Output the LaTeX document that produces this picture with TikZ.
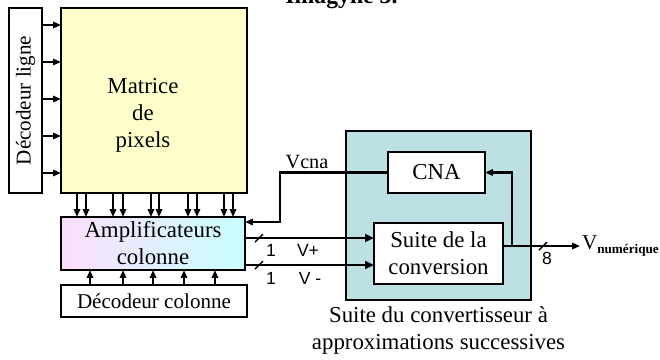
\documentclass[tikz,border=0pt]{standalone}
\usepackage{fontspec}
\setmainfont{Liberation Serif}
\setsansfont{Liberation Sans}
\usetikzlibrary{arrows.meta,positioning}

\definecolor{matjaune}{RGB}{255,255,204}
\definecolor{amprose}{RGB}{252,222,252}
\definecolor{ampcyan}{RGB}{200,255,255}
\definecolor{canbleu}{RGB}{188,224,228}

\begin{document}
\begin{tikzpicture}[
    x=0.02cm, y=-0.02cm,
    blk/.style={draw, line width=1.3pt, rectangle, inner sep=0pt, outer sep=0pt, align=center, font=\fontsize{13}{15.3}\selectfont},
    arr/.style={-{Triangle[length=4.5pt,width=3.6pt]}, line width=1pt},
    bus/.style={-{Triangle[length=5pt,width=4.4pt]}, line width=1.6pt},
    lbl/.style={font=\sffamily\fontsize{10}{12}\selectfont, inner sep=0pt},
    txt/.style={font=\fontsize{13}{15.3}\selectfont, align=center, inner sep=0pt}
]
\useasboundingbox (0,0) rectangle (660,359);

% titre coupe en haut
\node[font=\bfseries\fontsize{13.5}{15}\selectfont, anchor=base] (titre) at (341.5,3) {Imagyne 3.};

% capteur
\node[blk, rotate=90, minimum width=3.7cm, minimum height=0.66cm, font=\fontsize{12}{14}\selectfont] (ligne) at (25.5,100.5) {Décodeur ligne};
\node[blk, fill=matjaune, minimum width=3.72cm, minimum height=3.7cm] (matrice) at (154,100.5) {};
\node[txt] (mattxt) at (143,115) {Matrice\\de\\pixels};
\node[blk, left color=amprose, right color=ampcyan, minimum width=3.68cm, minimum height=1.06cm] (ampli) at (153,243.5) {Amplificateurs\\colonne};
\node[blk, minimum width=3.72cm, minimum height=0.64cm, font=\fontsize{12}{14}\selectfont] (deccol) at (154,301) {Décodeur colonne};

% convertisseur
\node[blk, fill=canbleu, line width=1.5pt, minimum width=3.7cm, minimum height=3.38cm] (conv) at (438.5,215.5) {};
\node[blk, fill=white, minimum width=1.94cm, minimum height=0.82cm] (cna) at (436.5,172.5) {CNA};
\node[blk, fill=white, minimum width=2.58cm, minimum height=1.22cm] (suite) at (438.5,253.5) {Suite de la\\conversion};
\node[txt, anchor=north] (legende) at (438.5,306) {Suite du convertisseur à\\approximations successives};

\node[anchor=west, inner sep=1pt, font=\fontsize{12}{13}\selectfont] (vnum) at (580,246)
    {V\raisebox{-0.5ex}{\bfseries\fontsize{7.5}{8}\selectfont numérique}};

% lignes et colonnes
\foreach \y in {25,62,99,136,173}
    \draw[arr] (ligne.south |- 0,\y) -- (matrice.west |- 0,\y);
\foreach \x in {77,86,113,123,151,159,188,197,224,233}
    \draw[arr] (matrice.south -| \x,0) -- (ampli.north -| \x,0);
\foreach \x in {90,123,153,184,215}
    \draw[arr] (deccol.north -| \x,0) -- (ampli.south -| \x,0);

% Vcna
\coordinate (coude) at (280,222);
\draw[arr, line width=1.2pt] (cna.west) -| (coude) -- (coude -| ampli.east);
\node[font=\fontsize{11.5}{13}\selectfont, inner sep=0pt] (vcna) at (307,162) {Vcna};

% V+ et V-
\coordinate (tp) at (259,238);
\coordinate (tm) at (259,265);
\draw[bus] (ampli.east |- tp) -- (suite.west |- tp);
\draw[bus] (ampli.east |- tm) -- (suite.west |- tm);
\draw[line width=0.8pt] ([shift={(-4,4)}]tp) -- ([shift={(4,-4)}]tp);
\draw[line width=0.8pt] ([shift={(-4,4)}]tm) -- ([shift={(4,-4)}]tm);
\node[lbl] (unp) at (271,250) {1};
\node[lbl] (vp) at (308,250) {V+};
\node[lbl] (unm) at (271,278) {1};
\node[lbl] (vm) at (310,278) {V -};

% sortie et retour
\coordinate (retour) at (512,246);
\coordinate (to) at (543,246);
\draw[arr, line width=1.2pt] (suite.east |- vnum.west) -- (vnum.west);
\draw[arr, line width=1.2pt] (retour) |- (cna.east);
\draw[line width=0.8pt] ([shift={(-4,4)}]to) -- ([shift={(4,-4)}]to);
\node[lbl] (huit) at (547,258) {8};

\end{tikzpicture}
\end{document}
